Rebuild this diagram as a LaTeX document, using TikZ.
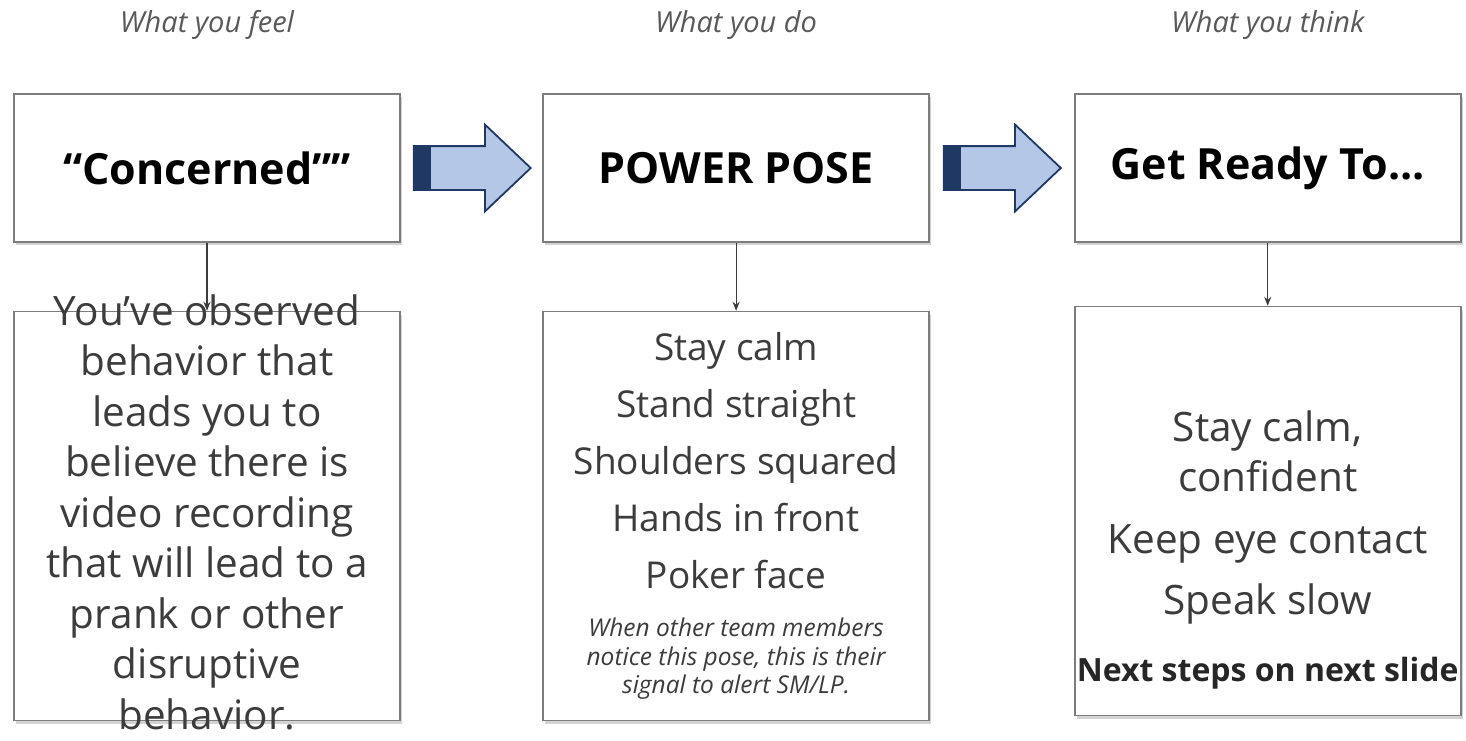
\documentclass[tikz,border=0pt]{standalone}
\usepackage{fontspec}
\setmainfont{Open Sans}
\usetikzlibrary{positioning,shapes.arrows,shadows,arrows.meta}
\definecolor{boxgray}{RGB}{125,125,125}
\definecolor{arrownavy}{RGB}{31,56,100}
\definecolor{arrowblue}{RGB}{180,199,231}
\definecolor{textgray}{RGB}{60,60,60}

\begin{document}
\begin{tikzpicture}[
    x=1pt, y=-1pt,
    box/.style={rectangle, draw=boxgray, line width=1.6pt, fill=white, minimum width=386pt, inner sep=0pt,
        drop shadow={shadow xshift=2pt, shadow yshift=-3pt, opacity=0.35}},
    titlebox/.style={box, minimum height=148pt, font=\fontsize{43}{50}\selectfont\bfseries},
    listbox/.style={box, minimum height=409pt},
    caption/.style={font=\fontsize{29}{34}\selectfont\itshape, text=textgray!85},
    body/.style={align=center, text=textgray, font=\fontsize{37}{57}\selectfont},
    link/.style={-{Stealth[length=9pt,width=7pt]}, line width=1.2pt, draw=textgray},
    bigarrow/.style={single arrow, draw=arrownavy, line width=1.8pt, fill=arrowblue,
        minimum height=117pt, inner xsep=0pt, inner ysep=21pt,
        single arrow head extend=21.5pt, single arrow tip angle=87,
        path picture={\fill[arrownavy] ([xshift=-2pt]path picture bounding box.south west)
            rectangle ([xshift=17pt]path picture bounding box.north west);}}
]
\useasboundingbox (0,0) rectangle (1466,740);

% Top row
\node[titlebox] (feel) at (207,168) {“Concerned””};
\node[titlebox, right=141.5pt of feel] (do) {POWER POSE};
\node[titlebox, right=144pt of do] (think) {Get Ready To...};

% Captions
\node[caption] (feelcap) at ([yshift=68pt]feel.north) {What you feel};
\node[caption] (docap) at ([yshift=68pt]do.north) {What you do};
\node[caption] (thinkcap) at ([yshift=68pt]think.north) {What you think};

% Block arrows
\node[bigarrow, right=12pt of feel] (feeltodo) {};
\node[bigarrow, right=13pt of do] (dotothink) {};

% Bottom row
\node[listbox, below=68pt of feel] (feellist) {};
\node[listbox, below=68pt of do] (dolist) {};
\node[listbox, below=63pt of think] (thinklist) {};

% Texts
\node[body, font=\fontsize{40.5}{50.5}\selectfont] (feeltext) at ([yshift=4pt]feellist.center)
    {You’ve observed\\behavior that\\leads you to\\believe there is\\video recording\\that will lead to a\\prank or other\\disruptive\\behavior.};
\node[body] (dotext) at ([yshift=55pt]dolist.center)
    {Stay calm\\Stand straight\\Shoulders squared\\Hands in front\\Poker face};
\node[body, font=\fontsize{24.5}{28.5}\selectfont\itshape] (donote) at ([yshift=-143pt]dolist.center)
    {When other team members\\notice this pose, this is their\\signal to alert SM/LP.};
\node[body, font=\fontsize{40.5}{50}\selectfont] (thinktext) at ([yshift=-6pt]thinklist.center)
    {Stay calm,\\confident\\[12pt]Keep eye contact\\[11pt]Speak slow};
\node[body, font=\fontsize{32}{38}\selectfont\bfseries, text=black!85] (thinknote) at ([yshift=-162.5pt]thinklist.center)
    {Next steps on next slide};

% Arrows
\draw[link] (feel) -- (feellist);
\draw[link] (do) -- (dolist);
\draw[link] (think) -- (thinklist);

\end{tikzpicture}
\end{document}
